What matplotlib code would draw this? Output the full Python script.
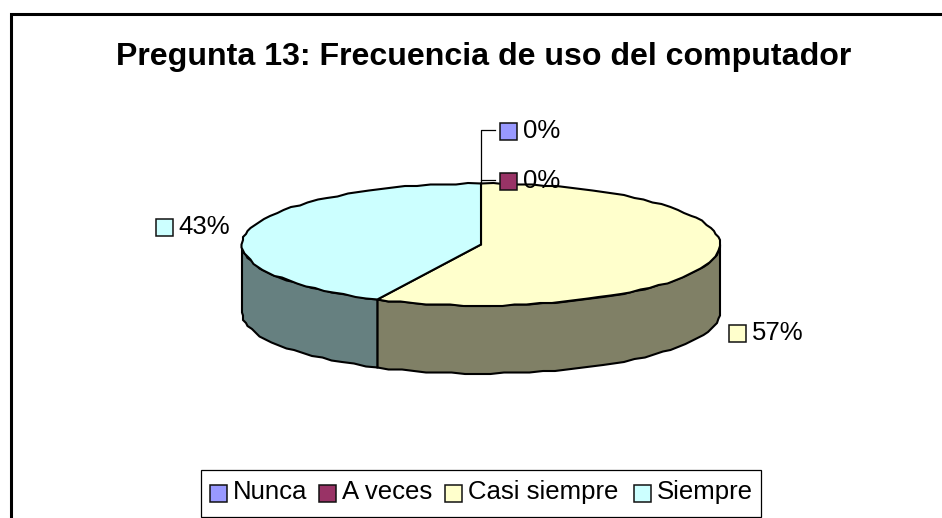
import numpy as np
import matplotlib
matplotlib.use('Agg')
import matplotlib.pyplot as plt
from matplotlib.patches import Rectangle, Polygon

plt.rcParams['font.family'] = ['Liberation Sans', 'DejaVu Sans']

title = 'Pregunta 13: Frecuencia de uso del computador'
categories = ['Nunca', 'A veces', 'Casi siempre', 'Siempre']
values = [0, 0, 57.14, 42.86]
colors = ['#9999FF', '#993366', '#FFFFCC', '#CCFFFF']
side_colors = ['#666699', '#662244', '#808066', '#668080']

W, H = 942, 518
cx, cy = 481, 244.5
rx, ry = 239, 61
depth = 68

fig = plt.figure(figsize=(W/100, H/100), dpi=100)
ax = fig.add_axes([0, 0, 1, 1])
ax.set_xlim(0, W)
ax.set_ylim(H, 0)
ax.axis('off')

# chart frame, right and bottom run off the image
ax.plot([10.8, 10.8, W+5], [H+5, 13.5, 13.5], color='k', lw=2.2, solid_joinstyle='miter')
ax.text(484, 57.5, title, ha='center', va='center', fontsize=23.1, fontweight='bold')


def rim(a0, a1):
    # points snapped to a small grid give the slightly bumpy outline of the original
    n = max(int((a1 - a0) / 3), 2)
    t = np.radians(np.linspace(a0, a1, n))
    x = cx + rx*np.sin(t)
    y = cy - ry*np.cos(t)
    x[1:-1] = np.round(x[1:-1] / 1.5) * 1.5
    y[1:-1] = np.round(y[1:-1] / 1.5) * 1.5
    return x, y


# angles clockwise from the top, like the original pie
edges = np.cumsum([0] + values) / sum(values) * 360

# side wall, only the part facing the viewer
for i in range(len(values)):
    a0, a1 = max(edges[i], 90), min(edges[i+1], 270)
    if a1 <= a0:
        continue
    x, y = rim(a0, a1)
    pts = np.r_[np.c_[x, y], np.c_[x, y + depth][::-1]]
    ax.add_patch(Polygon(pts, closed=True, fc=side_colors[i], ec='k', lw=1.5, zorder=2))

# top of the pie
for i in range(len(values)):
    if values[i] == 0:
        continue
    x, y = rim(edges[i], edges[i+1])
    pts = np.r_[[[cx, cy]], np.c_[x, y]]
    ax.add_patch(Polygon(pts, closed=True, fc=colors[i], ec='k', lw=1.5, zorder=3))

# leader lines for the empty slices
ax.plot([481, 481, 495], [183, 129.5, 129.5], color='k', lw=0.9, zorder=4)
ax.plot([481, 495], [179.5, 179.5], color='k', lw=0.9, zorder=4)


def key(x, y, c, s=17):
    ax.add_patch(Rectangle((x, y), s, s, fc=c, ec='#111111', lw=1.1, zorder=5))


label_pos = [(500, 123, 523, 130.5), (500, 173, 523, 180.5), (728.5, 325, 752, 332.5), (156, 219, 178.5, 226.5)]
for i in range(len(values)):
    kx, ky, tx, ty = label_pos[i]
    key(kx, ky, colors[i])
    ax.text(tx, ty, '%.0f%%' % values[i], ha='left', va='center', fontsize=18.5, zorder=6)

# legend
ax.add_patch(Rectangle((200.5, 470), 560, 47, fc='white', ec='k', lw=0.9, zorder=4))
legend_x = [210, 318.5, 445, 634]
for i in range(len(categories)):
    key(legend_x[i], 485, colors[i])
    ax.text(legend_x[i] + 23, 492, categories[i], ha='left', va='center', fontsize=18.5, zorder=6)

fig.savefig('out.png', dpi=100)
